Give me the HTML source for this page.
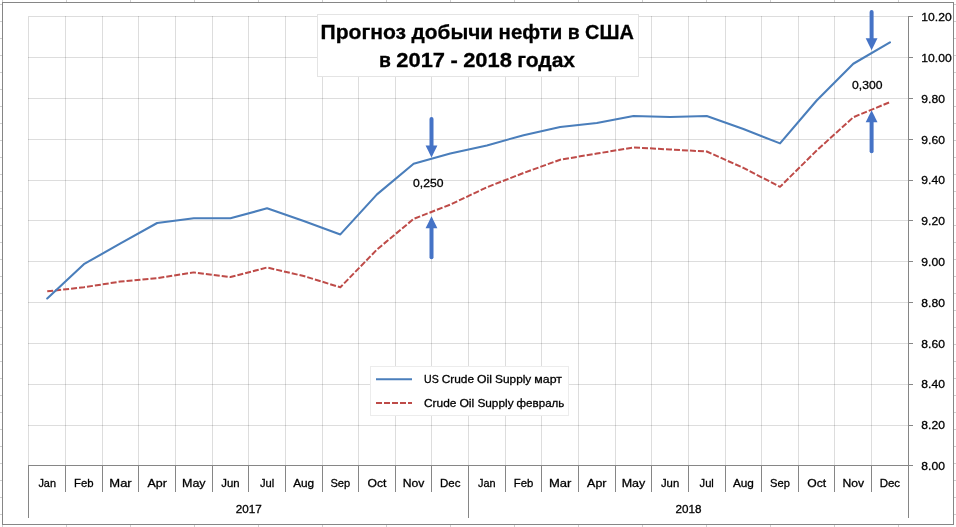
<!DOCTYPE html>
<html lang="ru"><head><meta charset="utf-8"><title>Прогноз добычи нефти в США</title>
<style>html,body{margin:0;padding:0;background:#fff;overflow:hidden}svg{display:block}text{font-family:"Liberation Sans",sans-serif;fill:#000;stroke:#000;stroke-width:0.3px}</style></head><body>
<svg width="956" height="527" viewBox="0 0 956 527">
<rect width="956" height="527" fill="#fff"/>
<g stroke="#cfcfcf" stroke-width="1" shape-rendering="crispEdges">
<line x1="2.5" y1="0" x2="2.5" y2="2"/><line x1="2.5" y1="525" x2="2.5" y2="527"/>
<line x1="66.5" y1="0" x2="66.5" y2="2"/><line x1="66.5" y1="525" x2="66.5" y2="527"/>
<line x1="130.5" y1="0" x2="130.5" y2="2"/><line x1="130.5" y1="525" x2="130.5" y2="527"/>
<line x1="194.5" y1="0" x2="194.5" y2="2"/><line x1="194.5" y1="525" x2="194.5" y2="527"/>
<line x1="258.5" y1="0" x2="258.5" y2="2"/><line x1="258.5" y1="525" x2="258.5" y2="527"/>
<line x1="322.5" y1="0" x2="322.5" y2="2"/><line x1="322.5" y1="525" x2="322.5" y2="527"/>
<line x1="386.5" y1="0" x2="386.5" y2="2"/><line x1="386.5" y1="525" x2="386.5" y2="527"/>
<line x1="450.5" y1="0" x2="450.5" y2="2"/><line x1="450.5" y1="525" x2="450.5" y2="527"/>
<line x1="514.5" y1="0" x2="514.5" y2="2"/><line x1="514.5" y1="525" x2="514.5" y2="527"/>
<line x1="578.5" y1="0" x2="578.5" y2="2"/><line x1="578.5" y1="525" x2="578.5" y2="527"/>
<line x1="642.5" y1="0" x2="642.5" y2="2"/><line x1="642.5" y1="525" x2="642.5" y2="527"/>
<line x1="706.5" y1="0" x2="706.5" y2="2"/><line x1="706.5" y1="525" x2="706.5" y2="527"/>
<line x1="770.5" y1="0" x2="770.5" y2="2"/><line x1="770.5" y1="525" x2="770.5" y2="527"/>
<line x1="834.5" y1="0" x2="834.5" y2="2"/><line x1="834.5" y1="525" x2="834.5" y2="527"/>
<line x1="898.5" y1="0" x2="898.5" y2="2"/><line x1="898.5" y1="525" x2="898.5" y2="527"/>
<line x1="0" y1="4.5" x2="2" y2="4.5"/><line x1="954" y1="4.5" x2="956" y2="4.5"/>
<line x1="0" y1="21.5" x2="2" y2="21.5"/><line x1="954" y1="21.5" x2="956" y2="21.5"/>
<line x1="0" y1="38.5" x2="2" y2="38.5"/><line x1="954" y1="38.5" x2="956" y2="38.5"/>
<line x1="0" y1="55.5" x2="2" y2="55.5"/><line x1="954" y1="55.5" x2="956" y2="55.5"/>
<line x1="0" y1="72.5" x2="2" y2="72.5"/><line x1="954" y1="72.5" x2="956" y2="72.5"/>
<line x1="0" y1="89.5" x2="2" y2="89.5"/><line x1="954" y1="89.5" x2="956" y2="89.5"/>
<line x1="0" y1="106.5" x2="2" y2="106.5"/><line x1="954" y1="106.5" x2="956" y2="106.5"/>
<line x1="0" y1="123.5" x2="2" y2="123.5"/><line x1="954" y1="123.5" x2="956" y2="123.5"/>
<line x1="0" y1="140.5" x2="2" y2="140.5"/><line x1="954" y1="140.5" x2="956" y2="140.5"/>
<line x1="0" y1="157.5" x2="2" y2="157.5"/><line x1="954" y1="157.5" x2="956" y2="157.5"/>
<line x1="0" y1="174.5" x2="2" y2="174.5"/><line x1="954" y1="174.5" x2="956" y2="174.5"/>
<line x1="0" y1="191.5" x2="2" y2="191.5"/><line x1="954" y1="191.5" x2="956" y2="191.5"/>
<line x1="0" y1="208.5" x2="2" y2="208.5"/><line x1="954" y1="208.5" x2="956" y2="208.5"/>
<line x1="0" y1="225.5" x2="2" y2="225.5"/><line x1="954" y1="225.5" x2="956" y2="225.5"/>
<line x1="0" y1="242.5" x2="2" y2="242.5"/><line x1="954" y1="242.5" x2="956" y2="242.5"/>
<line x1="0" y1="259.5" x2="2" y2="259.5"/><line x1="954" y1="259.5" x2="956" y2="259.5"/>
<line x1="0" y1="276.5" x2="2" y2="276.5"/><line x1="954" y1="276.5" x2="956" y2="276.5"/>
<line x1="0" y1="293.5" x2="2" y2="293.5"/><line x1="954" y1="293.5" x2="956" y2="293.5"/>
<line x1="0" y1="310.5" x2="2" y2="310.5"/><line x1="954" y1="310.5" x2="956" y2="310.5"/>
<line x1="0" y1="327.5" x2="2" y2="327.5"/><line x1="954" y1="327.5" x2="956" y2="327.5"/>
<line x1="0" y1="344.5" x2="2" y2="344.5"/><line x1="954" y1="344.5" x2="956" y2="344.5"/>
<line x1="0" y1="361.5" x2="2" y2="361.5"/><line x1="954" y1="361.5" x2="956" y2="361.5"/>
<line x1="0" y1="378.5" x2="2" y2="378.5"/><line x1="954" y1="378.5" x2="956" y2="378.5"/>
<line x1="0" y1="395.5" x2="2" y2="395.5"/><line x1="954" y1="395.5" x2="956" y2="395.5"/>
<line x1="0" y1="412.5" x2="2" y2="412.5"/><line x1="954" y1="412.5" x2="956" y2="412.5"/>
<line x1="0" y1="429.5" x2="2" y2="429.5"/><line x1="954" y1="429.5" x2="956" y2="429.5"/>
<line x1="0" y1="446.5" x2="2" y2="446.5"/><line x1="954" y1="446.5" x2="956" y2="446.5"/>
<line x1="0" y1="463.5" x2="2" y2="463.5"/><line x1="954" y1="463.5" x2="956" y2="463.5"/>
<line x1="0" y1="480.5" x2="2" y2="480.5"/><line x1="954" y1="480.5" x2="956" y2="480.5"/>
<line x1="0" y1="497.5" x2="2" y2="497.5"/><line x1="954" y1="497.5" x2="956" y2="497.5"/>
<line x1="0" y1="514.5" x2="2" y2="514.5"/><line x1="954" y1="514.5" x2="956" y2="514.5"/>
</g>
<rect x="2.5" y="2.5" width="951" height="522" fill="#fff" stroke="#868686" stroke-width="1" shape-rendering="crispEdges"/>
<g stroke="#000" stroke-opacity="0.135" stroke-width="1" shape-rendering="crispEdges">
<line x1="28.0" y1="16.5" x2="908.0" y2="16.5"/>
<line x1="28.0" y1="57.5" x2="908.0" y2="57.5"/>
<line x1="28.0" y1="98.5" x2="908.0" y2="98.5"/>
<line x1="28.0" y1="139.5" x2="908.0" y2="139.5"/>
<line x1="28.0" y1="180.5" x2="908.0" y2="180.5"/>
<line x1="28.0" y1="220.5" x2="908.0" y2="220.5"/>
<line x1="28.0" y1="261.5" x2="908.0" y2="261.5"/>
<line x1="28.0" y1="302.5" x2="908.0" y2="302.5"/>
<line x1="28.0" y1="343.5" x2="908.0" y2="343.5"/>
<line x1="28.0" y1="384.5" x2="908.0" y2="384.5"/>
<line x1="28.0" y1="425.5" x2="908.0" y2="425.5"/>
<line x1="28.5" y1="17.0" x2="28.5" y2="465.0"/>
<line x1="65.5" y1="16.0" x2="65.5" y2="465.0"/>
<line x1="102.5" y1="16.0" x2="102.5" y2="465.0"/>
<line x1="138.5" y1="16.0" x2="138.5" y2="465.0"/>
<line x1="175.5" y1="16.0" x2="175.5" y2="465.0"/>
<line x1="212.5" y1="16.0" x2="212.5" y2="465.0"/>
<line x1="248.5" y1="16.0" x2="248.5" y2="465.0"/>
<line x1="285.5" y1="16.0" x2="285.5" y2="465.0"/>
<line x1="322.5" y1="16.0" x2="322.5" y2="465.0"/>
<line x1="358.5" y1="16.0" x2="358.5" y2="465.0"/>
<line x1="395.5" y1="16.0" x2="395.5" y2="465.0"/>
<line x1="431.5" y1="16.0" x2="431.5" y2="465.0"/>
<line x1="468.5" y1="16.0" x2="468.5" y2="465.0"/>
<line x1="505.5" y1="16.0" x2="505.5" y2="465.0"/>
<line x1="541.5" y1="16.0" x2="541.5" y2="465.0"/>
<line x1="578.5" y1="16.0" x2="578.5" y2="465.0"/>
<line x1="615.5" y1="16.0" x2="615.5" y2="465.0"/>
<line x1="651.5" y1="16.0" x2="651.5" y2="465.0"/>
<line x1="688.5" y1="16.0" x2="688.5" y2="465.0"/>
<line x1="725.5" y1="16.0" x2="725.5" y2="465.0"/>
<line x1="761.5" y1="16.0" x2="761.5" y2="465.0"/>
<line x1="798.5" y1="16.0" x2="798.5" y2="465.0"/>
<line x1="834.5" y1="16.0" x2="834.5" y2="465.0"/>
<line x1="871.5" y1="16.0" x2="871.5" y2="465.0"/>
</g>
<g stroke="#868686" stroke-width="1" shape-rendering="crispEdges">
<line x1="28.0" y1="465.5" x2="909.0" y2="465.5"/>
<line x1="908.5" y1="16.0" x2="908.5" y2="518"/>
<line x1="908.5" y1="16.5" x2="913.0" y2="16.5"/>
<line x1="908.5" y1="57.5" x2="913.0" y2="57.5"/>
<line x1="908.5" y1="98.5" x2="913.0" y2="98.5"/>
<line x1="908.5" y1="139.5" x2="913.0" y2="139.5"/>
<line x1="908.5" y1="180.5" x2="913.0" y2="180.5"/>
<line x1="908.5" y1="220.5" x2="913.0" y2="220.5"/>
<line x1="908.5" y1="261.5" x2="913.0" y2="261.5"/>
<line x1="908.5" y1="302.5" x2="913.0" y2="302.5"/>
<line x1="908.5" y1="343.5" x2="913.0" y2="343.5"/>
<line x1="908.5" y1="384.5" x2="913.0" y2="384.5"/>
<line x1="908.5" y1="425.5" x2="913.0" y2="425.5"/>
<line x1="908.5" y1="465.5" x2="913.0" y2="465.5"/>
<line x1="28.5" y1="465.5" x2="28.5" y2="518"/>
<line x1="65.5" y1="465.5" x2="65.5" y2="492"/>
<line x1="102.5" y1="465.5" x2="102.5" y2="492"/>
<line x1="138.5" y1="465.5" x2="138.5" y2="492"/>
<line x1="175.5" y1="465.5" x2="175.5" y2="492"/>
<line x1="212.5" y1="465.5" x2="212.5" y2="492"/>
<line x1="248.5" y1="465.5" x2="248.5" y2="492"/>
<line x1="285.5" y1="465.5" x2="285.5" y2="492"/>
<line x1="322.5" y1="465.5" x2="322.5" y2="492"/>
<line x1="358.5" y1="465.5" x2="358.5" y2="492"/>
<line x1="395.5" y1="465.5" x2="395.5" y2="492"/>
<line x1="431.5" y1="465.5" x2="431.5" y2="492"/>
<line x1="468.5" y1="465.5" x2="468.5" y2="518"/>
<line x1="505.5" y1="465.5" x2="505.5" y2="492"/>
<line x1="541.5" y1="465.5" x2="541.5" y2="492"/>
<line x1="578.5" y1="465.5" x2="578.5" y2="492"/>
<line x1="615.5" y1="465.5" x2="615.5" y2="492"/>
<line x1="651.5" y1="465.5" x2="651.5" y2="492"/>
<line x1="688.5" y1="465.5" x2="688.5" y2="492"/>
<line x1="725.5" y1="465.5" x2="725.5" y2="492"/>
<line x1="761.5" y1="465.5" x2="761.5" y2="492"/>
<line x1="798.5" y1="465.5" x2="798.5" y2="492"/>
<line x1="834.5" y1="465.5" x2="834.5" y2="492"/>
<line x1="871.5" y1="465.5" x2="871.5" y2="492"/>
</g>
<polyline points="47.22,291.36 83.86,287.28 120.50,281.56 157.14,278.09 193.78,272.38 230.42,277.07 267.06,267.48 303.70,276.05 340.34,287.28 376.98,249.52 413.62,218.89 450.26,204.61 486.90,187.25 523.54,172.96 560.18,159.70 596.82,153.57 633.46,147.45 670.10,149.49 706.74,151.53 743.38,167.86 780.02,186.85 816.66,150.51 853.30,117.24 889.94,102.13" fill="none" stroke="#be4b48" stroke-width="2" stroke-dasharray="6 2" stroke-linejoin="round"/>
<polyline points="47.22,298.51 83.86,264.21 120.50,243.39 157.14,222.98 193.78,218.28 230.42,218.28 267.06,208.28 303.70,220.94 340.34,234.41 376.98,194.40 413.62,163.78 450.26,153.57 486.90,145.41 523.54,135.20 560.18,127.03 596.82,122.95 633.46,116.01 670.10,117.03 706.74,116.01 743.38,129.07 780.02,143.36 816.66,100.50 853.30,63.75 889.94,42.32" fill="none" stroke="#4a7ebb" stroke-width="2.1" stroke-linejoin="round" stroke-linecap="round"/>
<line x1="431.5" y1="118.9" x2="431.5" y2="147.6" stroke="#4573c6" stroke-width="4" stroke-linecap="round"/>
<path d="M425.6 145.6 L437.4 145.6 L431.5 157.6 Z" fill="#4573c6"/>
<line x1="431.5" y1="226.2" x2="431.5" y2="257.2" stroke="#4573c6" stroke-width="4" stroke-linecap="round"/>
<path d="M425.6 228.2 L437.4 228.2 L431.5 216.2 Z" fill="#4573c6"/>
<line x1="871.6" y1="11.9" x2="871.6" y2="40.3" stroke="#4573c6" stroke-width="4" stroke-linecap="round"/>
<path d="M865.7 38.3 L877.5 38.3 L871.6 50.3 Z" fill="#4573c6"/>
<line x1="871.6" y1="120.2" x2="871.6" y2="151.3" stroke="#4573c6" stroke-width="4" stroke-linecap="round"/>
<path d="M865.7 122.2 L877.5 122.2 L871.6 110.2 Z" fill="#4573c6"/>
<g font-size="11.8">
<text x="413" y="187" textLength="30.4" lengthAdjust="spacingAndGlyphs">0,250</text>
<text x="852" y="89" textLength="30.4" lengthAdjust="spacingAndGlyphs">0,300</text>
</g>
<g font-size="11.8">
<text x="921.3" y="21.0" textLength="30.4" lengthAdjust="spacingAndGlyphs">10.20</text>
<text x="921.3" y="61.8" textLength="30.4" lengthAdjust="spacingAndGlyphs">10.00</text>
<text x="921.3" y="102.7" textLength="23.6" lengthAdjust="spacingAndGlyphs">9.80</text>
<text x="921.3" y="143.5" textLength="23.6" lengthAdjust="spacingAndGlyphs">9.60</text>
<text x="921.3" y="184.3" textLength="23.6" lengthAdjust="spacingAndGlyphs">9.40</text>
<text x="921.3" y="225.1" textLength="23.6" lengthAdjust="spacingAndGlyphs">9.20</text>
<text x="921.3" y="266.0" textLength="23.6" lengthAdjust="spacingAndGlyphs">9.00</text>
<text x="921.3" y="306.8" textLength="23.6" lengthAdjust="spacingAndGlyphs">8.80</text>
<text x="921.3" y="347.6" textLength="23.6" lengthAdjust="spacingAndGlyphs">8.60</text>
<text x="921.3" y="388.4" textLength="23.6" lengthAdjust="spacingAndGlyphs">8.40</text>
<text x="921.3" y="429.3" textLength="23.6" lengthAdjust="spacingAndGlyphs">8.20</text>
<text x="921.3" y="470.1" textLength="23.6" lengthAdjust="spacingAndGlyphs">8.00</text>
</g>
<g font-size="11.8" text-anchor="middle">
<text x="47.2" y="487" textLength="17.6" lengthAdjust="spacingAndGlyphs">Jan</text>
<text x="83.9" y="487" textLength="19.6" lengthAdjust="spacingAndGlyphs">Feb</text>
<text x="120.5" y="487" textLength="22.4" lengthAdjust="spacingAndGlyphs">Mar</text>
<text x="157.1" y="487" textLength="19.4" lengthAdjust="spacingAndGlyphs">Apr</text>
<text x="193.8" y="487" textLength="23.6" lengthAdjust="spacingAndGlyphs">May</text>
<text x="230.4" y="487" textLength="18.3" lengthAdjust="spacingAndGlyphs">Jun</text>
<text x="267.1" y="487" textLength="14.3" lengthAdjust="spacingAndGlyphs">Jul</text>
<text x="303.7" y="487" textLength="21.0" lengthAdjust="spacingAndGlyphs">Aug</text>
<text x="340.3" y="487" textLength="19.8" lengthAdjust="spacingAndGlyphs">Sep</text>
<text x="377.0" y="487" textLength="18.9" lengthAdjust="spacingAndGlyphs">Oct</text>
<text x="413.6" y="487" textLength="21.6" lengthAdjust="spacingAndGlyphs">Nov</text>
<text x="450.3" y="487" textLength="20.5" lengthAdjust="spacingAndGlyphs">Dec</text>
<text x="486.9" y="487" textLength="17.6" lengthAdjust="spacingAndGlyphs">Jan</text>
<text x="523.5" y="487" textLength="19.6" lengthAdjust="spacingAndGlyphs">Feb</text>
<text x="560.2" y="487" textLength="22.4" lengthAdjust="spacingAndGlyphs">Mar</text>
<text x="596.8" y="487" textLength="19.4" lengthAdjust="spacingAndGlyphs">Apr</text>
<text x="633.5" y="487" textLength="23.6" lengthAdjust="spacingAndGlyphs">May</text>
<text x="670.1" y="487" textLength="18.3" lengthAdjust="spacingAndGlyphs">Jun</text>
<text x="706.7" y="487" textLength="14.3" lengthAdjust="spacingAndGlyphs">Jul</text>
<text x="743.4" y="487" textLength="21.0" lengthAdjust="spacingAndGlyphs">Aug</text>
<text x="780.0" y="487" textLength="19.8" lengthAdjust="spacingAndGlyphs">Sep</text>
<text x="816.7" y="487" textLength="18.9" lengthAdjust="spacingAndGlyphs">Oct</text>
<text x="853.3" y="487" textLength="21.6" lengthAdjust="spacingAndGlyphs">Nov</text>
<text x="889.9" y="487" textLength="20.5" lengthAdjust="spacingAndGlyphs">Dec</text>
<text x="248.7" y="512.6" textLength="26.0" lengthAdjust="spacingAndGlyphs">2017</text>
<text x="688.4" y="512.6" textLength="26.0" lengthAdjust="spacingAndGlyphs">2018</text>
</g>
<rect x="317.5" y="14.5" width="321" height="62" fill="#fff" stroke="#e4e4e4" stroke-width="1" shape-rendering="crispEdges"/>
<g font-size="20.8" font-weight="bold" fill="#000">
<text y="38.8"><tspan x="320.5" textLength="85.6" lengthAdjust="spacingAndGlyphs">Прогноз</tspan> <tspan x="411.6" textLength="81.6" lengthAdjust="spacingAndGlyphs">добычи</tspan> <tspan x="498.6" textLength="63.8" lengthAdjust="spacingAndGlyphs">нефти</tspan> <tspan x="567.8" textLength="11.9" lengthAdjust="spacingAndGlyphs">в</tspan> <tspan x="585.1" textLength="48.8" lengthAdjust="spacingAndGlyphs">США</tspan></text>
<text y="67.4"><tspan x="379.0" textLength="11.9" lengthAdjust="spacingAndGlyphs">в</tspan> <tspan x="396.3" textLength="48.7" lengthAdjust="spacingAndGlyphs">2017</tspan> <tspan x="450.4" textLength="7.3" lengthAdjust="spacingAndGlyphs">-</tspan> <tspan x="463.2" textLength="48.7" lengthAdjust="spacingAndGlyphs">2018</tspan> <tspan x="517.2" textLength="57.9" lengthAdjust="spacingAndGlyphs">годах</tspan></text>
</g>
<rect x="370.5" y="366.5" width="198" height="49" fill="#fff" stroke="#ececec" stroke-width="1" shape-rendering="crispEdges"/>
<line x1="376" y1="379.3" x2="412" y2="379.3" stroke="#4a7ebb" stroke-width="2"/>
<line x1="376" y1="403" x2="412" y2="403" stroke="#be4b48" stroke-width="2" stroke-dasharray="6 2"/>
<g font-size="11.8">
<text y="383.4"><tspan x="424.0" textLength="14.7" lengthAdjust="spacingAndGlyphs">US</tspan> <tspan x="441.7" textLength="32.4" lengthAdjust="spacingAndGlyphs">Crude</tspan> <tspan x="477.1" textLength="14.9" lengthAdjust="spacingAndGlyphs">Oil</tspan> <tspan x="495.1" textLength="36.2" lengthAdjust="spacingAndGlyphs">Supply</tspan> <tspan x="534.3" textLength="27.6" lengthAdjust="spacingAndGlyphs">март</tspan></text>
<text y="407"><tspan x="424.0" textLength="32.4" lengthAdjust="spacingAndGlyphs">Crude</tspan> <tspan x="459.4" textLength="14.9" lengthAdjust="spacingAndGlyphs">Oil</tspan> <tspan x="477.4" textLength="36.2" lengthAdjust="spacingAndGlyphs">Supply</tspan> <tspan x="516.6" textLength="47.8" lengthAdjust="spacingAndGlyphs">февраль</tspan></text>
</g>
</svg></body></html>
